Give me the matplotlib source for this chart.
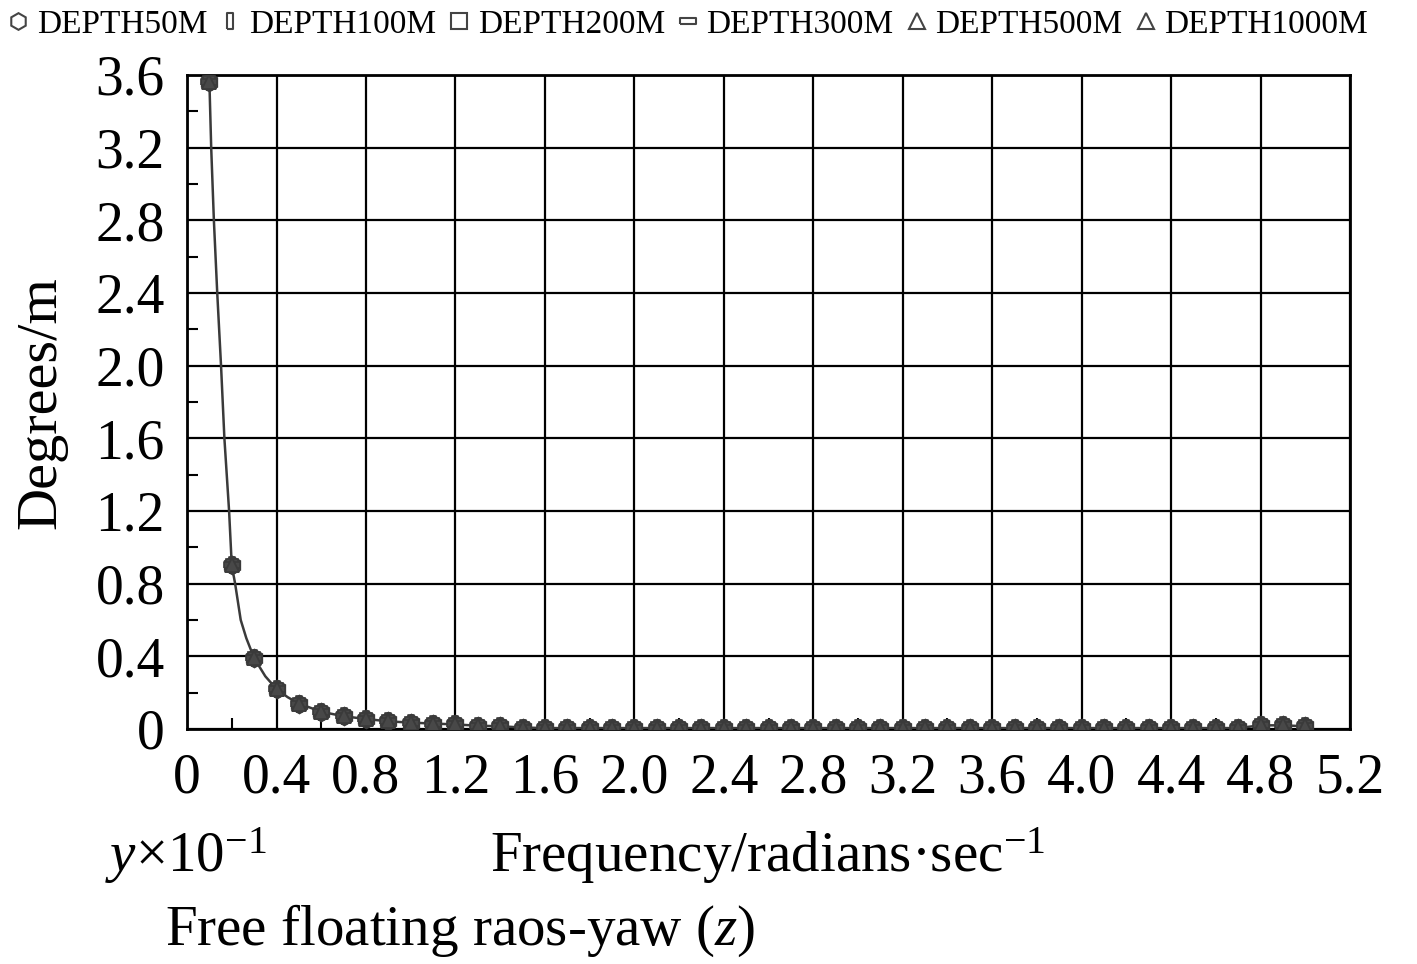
import matplotlib
matplotlib.use("Agg")
import matplotlib.pyplot as plt
from matplotlib.lines import Line2D
from matplotlib.ticker import MultipleLocator, FuncFormatter

plt.rcParams['font.family'] = ['Liberation Serif', 'DejaVu Serif']
plt.rcParams['mathtext.fontset'] = 'custom'
plt.rcParams['mathtext.rm'] = 'Liberation Serif'
plt.rcParams['mathtext.it'] = 'Liberation Serif:italic'

# series names (all six depths give practically the same RAO curve)
depths = ['DEPTH50M', 'DEPTH100M', 'DEPTH200M', 'DEPTH300M', 'DEPTH500M', 'DEPTH1000M']

# frequencies of the plotted points (rad/s)
freq = [0.1, 0.2, 0.3, 0.4, 0.5, 0.6, 0.7, 0.8, 0.9, 1.0,
        1.1, 1.2, 1.3, 1.4, 1.5, 1.6, 1.7, 1.8, 1.9, 2.0,
        2.1, 2.2, 2.3, 2.4, 2.5, 2.6, 2.7, 2.8, 2.9, 3.0,
        3.1, 3.2, 3.3, 3.4, 3.5, 3.6, 3.7, 3.8, 3.9, 4.0,
        4.1, 4.2, 4.3, 4.4, 4.5, 4.6, 4.7, 4.8, 4.9, 5.0]

# yaw RAO (degrees/m) at those points
yaw = [3.56, 0.90, 0.39, 0.22, 0.14, 0.095, 0.07, 0.055, 0.042, 0.035,
       0.030, 0.025, 0.018, 0.015, 0.008, 0.005, 0.005, 0.005, 0.005, 0.005,
       0.005, 0.005, 0.005, 0.005, 0.005, 0.005, 0.005, 0.005, 0.005, 0.005,
       0.005, 0.005, 0.005, 0.005, 0.005, 0.005, 0.005, 0.005, 0.005, 0.005,
       0.005, 0.005, 0.005, 0.005, 0.005, 0.005, 0.005, 0.020, 0.020, 0.015]

# finer readings of the drawn curve on the steep part
curve_freq = [0.1, 0.108, 0.12, 0.135, 0.152, 0.167, 0.188, 0.2, 0.215,
              0.24, 0.265, 0.3, 0.35, 0.4, 0.45]
curve_yaw = [3.56, 3.2, 2.8, 2.4, 2.0, 1.6, 1.2, 0.90, 0.80,
             0.60, 0.50, 0.39, 0.29, 0.22, 0.175]

tall_rect = [(-0.35, -1), (0.35, -1), (0.35, 1), (-0.35, 1), (-0.35, -1)]
wide_rect = [(-1, -0.4), (1, -0.4), (1, 0.4), (-1, 0.4), (-1, -0.4)]
markers = ['h', tall_rect, 's', wide_rect, '^', '^']
plot_sizes = [13, 11, 8, 11, 10, 10]

fig = plt.figure(figsize=(14.17, 9.64), dpi=100)
ax = fig.add_axes([0.132, 0.2438, 0.8207, 0.6784])

# the curve
line_f = curve_freq + [f for f in freq if f > curve_freq[-1]]
line_y = curve_yaw + [v for f, v in zip(freq, yaw) if f > curve_freq[-1]]
ax.plot(line_f, line_y, color='#3a3a3a', lw=1.8, zorder=3)

# markers of every depth (they overlap into dark blobs)
for m, ms in zip(markers, plot_sizes):
    ax.plot(freq, yaw, linestyle='none', marker=m, markersize=ms,
            markerfacecolor='#484848', markeredgecolor='#3a3a3a',
            markeredgewidth=1.2, zorder=4)

ax.set_xlim(0, 5.2)
ax.set_ylim(0, 3.6)
ax.xaxis.set_major_locator(MultipleLocator(0.4))
ax.yaxis.set_major_locator(MultipleLocator(0.4))
ax.xaxis.set_minor_locator(MultipleLocator(0.2))
ax.yaxis.set_minor_locator(MultipleLocator(0.2))
fmt = FuncFormatter(lambda v, p: '0' if abs(v) < 1e-9 else f'{v:.1f}')
ax.xaxis.set_major_formatter(fmt)
ax.yaxis.set_major_formatter(fmt)
ax.grid(True, which='major', color='black', lw=1.6, zorder=1)
ax.set_axisbelow(True)
ax.tick_params(which='major', length=0, labelsize=40)
ax.tick_params(axis='x', which='major', pad=17)
ax.tick_params(axis='y', which='major', pad=16)
ax.tick_params(which='minor', direction='in', length=8, width=1.5, top=False, right=False)
for s in ax.spines.values():
    s.set_linewidth(2)
    s.set_color('black')

# legend at the top with open symbols
handles = [Line2D([], [], linestyle='none', marker=m, markersize=12,
                  markerfacecolor='none', markeredgecolor='#444444',
                  markeredgewidth=1.5) for m in markers]
fig.legend(handles, depths, loc='upper left', bbox_to_anchor=(0.0, 0.997),
           ncol=6, frameon=False, fontsize=24, handlelength=0.7,
           handletextpad=0.2, columnspacing=0.35, borderpad=0.2,
           borderaxespad=0)

fig.text(0.0295, 0.582, 'Degrees/m', rotation=90, ha='center', va='center', fontsize=42)
fig.text(0.074, 0.0954, '$\\mathit{y}$×10$^{-1}$', ha='left', va='baseline', fontsize=41)
fig.text(0.3458, 0.0954, 'Frequency/radians·sec$^{-1}$', ha='left', va='baseline', fontsize=41)
fig.text(0.1164, 0.0197, 'Free floating raos-yaw ($\\mathit{z}$)', ha='left', va='baseline', fontsize=41)

fig.savefig('out.png', dpi=100, facecolor='white')
